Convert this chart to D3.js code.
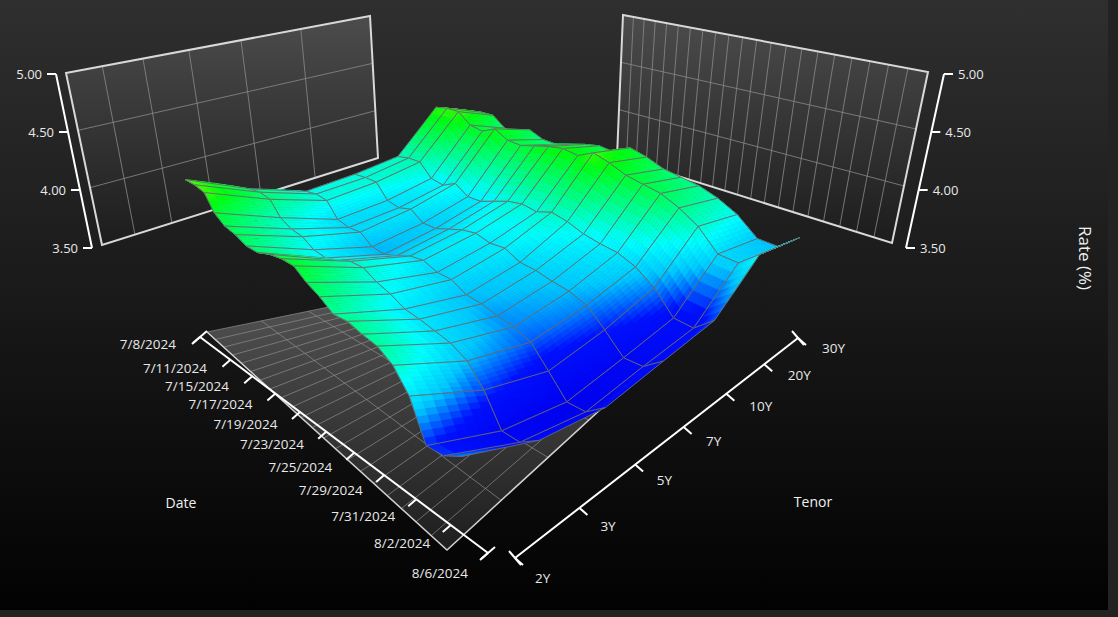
<!DOCTYPE html>
<html><head><meta charset="utf-8">
<script src="https://cdn.jsdelivr.net/npm/d3@7/dist/d3.min.js"></script>
<style>html,body{margin:0;padding:0;background:#222;}svg{display:block;}</style>
</head><body>
<svg id="c" width="1118" height="617"></svg>
<script>
// ---------- DATA ----------
const dates = ["7/8/2024","7/9/2024","7/10/2024","7/11/2024","7/12/2024","7/15/2024","7/16/2024","7/17/2024","7/18/2024","7/19/2024","7/22/2024","7/23/2024","7/24/2024","7/25/2024","7/26/2024","7/29/2024","7/30/2024","7/31/2024","8/1/2024","8/2/2024","8/5/2024","8/6/2024"];
const dateTickLabels = ["7/8/2024","7/11/2024","7/15/2024","7/17/2024","7/19/2024","7/23/2024","7/25/2024","7/29/2024","7/31/2024","8/2/2024","8/6/2024"];
const tenors = ["2Y","3Y","5Y","7Y","10Y","20Y","30Y"];
const rateTicks = [3.5, 4.0, 4.5, 5.0];
const r2Y  = [4.62,4.63,4.62,4.51,4.46,4.45,4.42,4.43,4.48,4.51,4.52,4.46,4.42,4.36,4.38,4.36,4.35,4.29,4.15,3.88,3.90,3.99];
const r3Y  = [4.38,4.40,4.39,4.29,4.25,4.24,4.19,4.18,4.22,4.27,4.28,4.23,4.20,4.15,4.14,4.12,4.10,4.04,3.90,3.68,3.68,3.78];
const r5Y  = [4.22,4.24,4.23,4.12,4.10,4.11,4.04,4.03,4.07,4.12,4.14,4.10,4.10,4.04,4.03,4.00,3.98,3.93,3.78,3.62,3.62,3.73];
const r7Y  = [4.24,4.25,4.25,4.14,4.12,4.15,4.08,4.08,4.12,4.16,4.18,4.15,4.16,4.10,4.09,4.06,4.04,3.99,3.86,3.71,3.71,3.82];
const r10Y = [4.28,4.30,4.30,4.20,4.18,4.23,4.16,4.16,4.20,4.24,4.26,4.24,4.28,4.25,4.20,4.17,4.15,4.09,3.98,3.80,3.78,3.90];
const r20Y = [4.59,4.61,4.61,4.53,4.51,4.56,4.50,4.49,4.52,4.55,4.57,4.55,4.61,4.57,4.51,4.48,4.45,4.38,4.28,4.11,4.09,4.21];
const r30Y = [4.47,4.49,4.49,4.41,4.39,4.45,4.40,4.39,4.42,4.45,4.47,4.45,4.52,4.48,4.42,4.39,4.36,4.30,4.21,4.06,4.04,4.16];
const series = [r2Y,r3Y,r5Y,r7Y,r10Y,r20Y,r30Y];

// ---------- SCALES / PROJECTION ----------
const svg = d3.select("#c");
const W=1108,H=610;
const uScale = d3.scaleLinear().domain([0,dates.length-1]).range([0,1]);
const vScale = d3.scaleLinear().domain([0,tenors.length-1]).range([0,1]);
const warpU = u => u/(u+1.41*(1-u));
const warpV = v => v/(v+0.678*(1-v));
function bil(c,su,sv){
  return [0,1].map(i=> c[0][i]*(1-su)*(1-sv)+c[1][i]*su*(1-sv)+c[2][i]*su*sv+c[3][i]*(1-su)*sv);
}
const surfBase=[[185,314],[462,526],[800,320],[470,230]];
const surfK=[120,142,125,122];
const rate0=3.5;
function proj(u,v,r){
  const su=warpU(u), sv=warpV(v);
  const b=bil(surfBase,su,sv);
  const k=surfK[0]*(1-su)*(1-sv)+surfK[1]*su*(1-sv)+surfK[2]*su*sv+surfK[3]*(1-su)*sv;
  return [b[0], b[1]-k*(r-rate0)];
}
const color = d3.scaleLinear()
  .domain([3.6,3.85,4.05,4.2,4.55,4.8])
  .range(["#0000f0","#0010ff","#00c8ff","#00ffff","#00ff10","#f0ff00"]).clamp(true);

// ---------- BACKGROUND ----------
const defs=svg.append("defs");
const bg=defs.append("linearGradient").attr("id","bg").attr("x1",0).attr("y1",0).attr("x2",0).attr("y2",1);
bg.append("stop").attr("offset","0").attr("stop-color","#2f2f2f");
bg.append("stop").attr("offset","1").attr("stop-color","#020202");
const wg=defs.append("linearGradient").attr("id","wall").attr("x1",0).attr("y1",0).attr("x2",0).attr("y2",1);
wg.append("stop").attr("offset","0").attr("stop-color","#4c4c4c");
wg.append("stop").attr("offset","1").attr("stop-color","#1c1c1c");
const fg=defs.append("linearGradient").attr("id","floor").attr("x1",0).attr("y1",0).attr("x2",0).attr("y2",1);
fg.append("stop").attr("offset","0").attr("stop-color","#555");
fg.append("stop").attr("offset","1").attr("stop-color","#1e1e1e");
svg.append("rect").attr("width",1118).attr("height",617).attr("fill","#232323");
svg.append("rect").attr("width",W).attr("height",H).attr("fill","url(#bg)");

const line=d3.line();
// ---------- WALLS ----------
const rateS=d3.scaleLinear().domain([3.5,5.0]).range([1,0]);
function drawWall(c, n, warp){ // TL,TR,BR,BL
  const P=(s,t)=>[0,1].map(i=> c[0][i]*(1-s)*(1-t)+c[1][i]*s*(1-t)+c[2][i]*s*t+c[3][i]*(1-s)*t);
  const g=svg.append("g");
  g.append("path").attr("d",line([c[0],c[1],c[2],c[3]])+"Z").attr("fill","url(#wall)");
  for(let i=1;i<n;i++){const s=warp(i/n);g.append("path").attr("d",line([P(s,0),P(s,1)])).attr("stroke","#8a8a8a").attr("stroke-width",0.8);}
  [4.0,4.5].forEach(r=>{const t=rateS(r);g.append("path").attr("d",line([P(0,t),P(1,t)])).attr("stroke","#8a8a8a").attr("stroke-width",0.8);});
  g.append("path").attr("d",line([c[0],c[1],c[2],c[3]])+"Z").attr("fill","none").attr("stroke","#d8d8d8").attr("stroke-width",2);
}
drawWall([[66,73],[370,16],[378,158],[102,245]], tenors.length-1, s=>1-warpV(1-s));
drawWall([[623,15],[928,72],[892,243],[617,157]], dates.length-1, s=>warpU(s));

function rateAxis(top,bot,side){
  const g=svg.append("g");
  const P=t=>[top[0]+(bot[0]-top[0])*t, top[1]+(bot[1]-top[1])*t];
  g.append("path").attr("d",line([P(0),P(1)])).attr("stroke","#fff").attr("stroke-width",2).attr("fill","none");
  rateTicks.forEach(r=>{const p=P(rateS(r));
    g.append("path").attr("d",line([p,[p[0]+side*9,p[1]]])).attr("stroke","#fff").attr("stroke-width",2);
    g.append("text").attr("x",p[0]+side*14).attr("y",p[1]+5).attr("text-anchor",side<0?"end":"start")
     .attr("fill","#e8e8e8").attr("font-family","Open Sans, sans-serif").attr("font-size",13).text(r.toFixed(2));});
}
rateAxis([56,74],[92,248],-1);
rateAxis([944,74],[906,248],1);

// ---------- FLOOR ----------
const floorC=[[207,332],[447,550],[685,332],[446,283]];
const FP=(u,v)=>bil(floorC,warpU(u),warpV(v));
svg.append("path").attr("d",line([floorC[0],floorC[1],floorC[2],floorC[3]])+"Z").attr("fill","url(#floor)");
dates.forEach((d,i)=>{const u=uScale(i);svg.append("path").attr("d",line([FP(u,0),FP(u,1)])).attr("stroke","#8c8c8c").attr("stroke-width",0.7);});
tenors.forEach((t,j)=>{const v=vScale(j);svg.append("path").attr("d",line([FP(0,v),FP(1,v)])).attr("stroke","#8c8c8c").attr("stroke-width",0.7);});
svg.append("path").attr("d",line([floorC[0],floorC[1],floorC[2]])).attr("fill","none").attr("stroke","#cfcfcf").attr("stroke-width",1.5);

// ---------- SURFACE ----------
const quads=[];
for(let i=0;i<dates.length-1;i++)for(let j=0;j<tenors.length-1;j++){
  quads.push({i,j,depth:(uScale(i)+uScale(i+1))/2-(vScale(j)+vScale(j+1))/2});
}
quads.sort((a,b)=>a.depth-b.depth);
const sg=svg.append("g");
const SUB=7;
quads.forEach(q=>{
  const {i,j}=q;
  const r00=series[j][i], r10=series[j][i+1], r01=series[j+1][i], r11=series[j+1][i+1];
  const u0=uScale(i),u1=uScale(i+1),v0=vScale(j),v1=vScale(j+1);
  const g=sg.append("g");
  for(let a=0;a<SUB;a++)for(let b=0;b<SUB;b++){
    const pts=[[a,b],[a+1,b],[a+1,b+1],[a,b+1]].map(([x,y])=>{
      const s=x/SUB,t=y/SUB;
      const r=r00*(1-s)*(1-t)+r10*s*(1-t)+r11*s*t+r01*(1-s)*t;
      return {p:proj(u0+(u1-u0)*s,v0+(v1-v0)*t,r),r};
    });
    const rm=d3.mean(pts,d=>d.r);
    g.append("path").attr("d",line(pts.map(d=>d.p))+"Z").attr("fill",color(rm)).attr("stroke",color(rm)).attr("stroke-width",0.7);
  }
  const corners=[proj(u0,v0,r00),proj(u1,v0,r10),proj(u1,v1,r11),proj(u0,v1,r01)];
  g.append("path").attr("d",line(corners)+"Z").attr("fill","none").attr("stroke","#6a6a6a").attr("stroke-width",0.9);
});

// ---------- DATE / TENOR AXES ----------
const font="Open Sans, sans-serif";
const dA=[200,337], dB=[488,553];
const dAt=t=>[dA[0]+(dB[0]-dA[0])*t, dA[1]+(dB[1]-dA[1])*t];
svg.append("path").attr("d",line([dA,dB])).attr("stroke","#fff").attr("stroke-width",2);
[dA,dB].forEach(p=>svg.append("path").attr("d",line([[p[0]+7,p[1]-6],[p[0]-7,p[1]+6]])).attr("stroke","#fff").attr("stroke-width",2));
dateTickLabels.forEach(lbl=>{
  const i=dates.indexOf(lbl); const t=warpU(uScale(i)); const p=dAt(t);
  svg.append("path").attr("d",line([p,[p[0]-8,p[1]+7]])).attr("stroke","#fff").attr("stroke-width",2);
  svg.append("text").attr("x",p[0]-24+4*t).attr("y",p[1]+12+13*t).attr("text-anchor","end")
    .attr("fill","#e8e8e8").attr("font-family",font).attr("font-size",13.5).text(lbl);
});
const tA=[515,558], tB=[798,338];
const tAt=t=>[tA[0]+(tB[0]-tA[0])*t, tA[1]+(tB[1]-tA[1])*t];
svg.append("path").attr("d",line([tA,tB])).attr("stroke","#fff").attr("stroke-width",2);
[tA,tB].forEach(p=>svg.append("path").attr("d",line([[p[0]-6,p[1]-7],[p[0]+6,p[1]+7]])).attr("stroke","#fff").attr("stroke-width",2));
tenors.forEach((tn,j)=>{
  const t=warpV(vScale(j)); const p=tAt(t);
  svg.append("path").attr("d",line([p,[p[0]+8,p[1]+7]])).attr("stroke","#fff").attr("stroke-width",2);
  svg.append("text").attr("x",p[0]+20+4*t).attr("y",p[1]+25-10*t).attr("text-anchor","start")
    .attr("fill","#e8e8e8").attr("font-family",font).attr("font-size",13.5).text(tn);
});
svg.append("text").attr("x",181).attr("y",508).attr("text-anchor","middle").attr("fill","#f0f0f0").attr("font-family",font).attr("font-size",14).text("Date");
svg.append("text").attr("x",813).attr("y",507).attr("text-anchor","middle").attr("fill","#f0f0f0").attr("font-family",font).attr("font-size",14).text("Tenor");
svg.append("text").attr("transform","translate(1079,258) rotate(90)").attr("text-anchor","middle").attr("fill","#f0f0f0").attr("font-family",font).attr("font-size",17).text("Rate (%)");
</script>
</body></html>
